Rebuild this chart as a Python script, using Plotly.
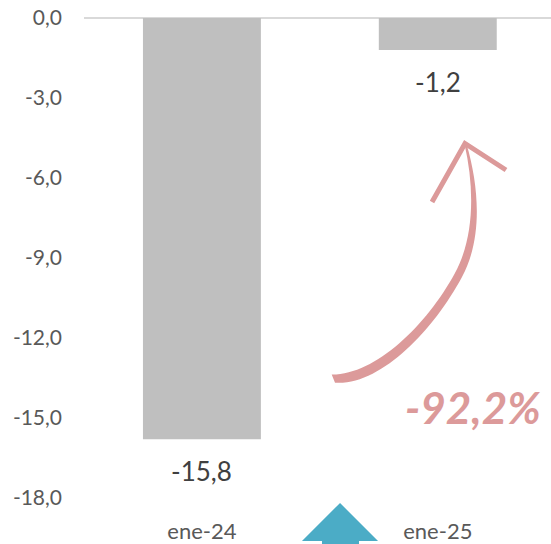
import plotly.graph_objects as go

categories = ["ene-24", "ene-25"]
values = [-15.8, -1.2]
value_labels = ["-15,8", "-1,2"]
tick_values = [0, -3, -6, -9, -12, -15, -18]
tick_labels = ["0,0", "-3,0", "-6,0", "-9,0", "-12,0", "-15,0", "-18,0"]
change_label = "-92,2%"

W, H = 551, 544
L, R, T, B = 84, 0, 18, 46
FONT = "Lato"
PINK = "#DC9A9A"


def px(x):
    return (x - L) / (W - L - R)


def py(y):
    return 1 - (y - T) / (H - T - B)


def P(x, y):
    return f"{px(x):.4f},{py(y):.4f}"


curve = (
    "M" + P(331.7, 374.5)
    + " C" + P(375, 375) + " " + P(426.4, 325.7) + " " + P(455, 273)
    + " C" + P(474, 238) + " " + P(475, 190) + " " + P(464.5, 144)
    + " L" + P(466.5, 144)
    + " C" + P(480, 190) + " " + P(482, 240) + " " + P(462, 277)
    + " C" + P(433, 331) + " " + P(380, 386) + " " + P(335, 382.7)
    + " Z"
)
head = "M" + P(432, 202) + " L" + P(465, 143.5) + " L" + P(506, 170)

teal = "M" + " L".join(
    P(x, y)
    for x, y in [(340, 503), (378, 541), (359, 541), (359, 560), (322, 560), (322, 541), (302, 541)]
) + " Z"

fig = go.Figure(
    go.Bar(
        x=categories,
        y=values,
        width=0.5,
        marker=dict(color="#BFBFBF", line=dict(width=0)),
        cliponaxis=False,
        hoverinfo="skip",
    )
)

label_notes = [
    dict(
        text=t, x=c, y=v, xref="x", yref="y",
        yshift=-32, yanchor="middle", xanchor="center",
        showarrow=False,
        font=dict(family=FONT, size=26, color="#404040"),
    )
    for c, v, t in zip(categories, values, value_labels)
]

fig.update_layout(
    width=W,
    height=H,
    autosize=False,
    margin=dict(l=L, r=R, t=T, b=B, pad=0),
    paper_bgcolor="white",
    plot_bgcolor="white",
    showlegend=False,
    font=dict(family=FONT, color="#595959"),
    xaxis=dict(
        type="category",
        automargin=False,
        range=[-0.5, 1.48],
        showgrid=False,
        showline=False,
        ticks="",
        ticklabelstandoff=18,
        tickfont=dict(family=FONT, size=22, color="#595959"),
        fixedrange=True,
    ),
    yaxis=dict(
        automargin=False,
        range=[-18, 0],
        tickvals=tick_values,
        ticktext=tick_labels,
        showgrid=False,
        zeroline=False,
        showline=False,
        ticks="",
        ticklabelstandoff=21,
        tickfont=dict(family=FONT, size=21, color="#595959"),
        fixedrange=True,
    ),
    shapes=[
        dict(type="line", xref="paper", yref="paper", x0=0, x1=1, y0=1, y1=1,
             line=dict(color="#D9D9D9", width=2), layer="below"),
        dict(type="path", xref="paper", yref="paper", path=curve,
             fillcolor=PINK, line=dict(width=0)),
        dict(type="path", xref="paper", yref="paper", path=head,
             fillcolor="rgba(0,0,0,0)", line=dict(color=PINK, width=5)),
        dict(type="path", xref="paper", yref="paper", path=teal,
             fillcolor="#4BACC6", line=dict(width=0)),
    ],
    annotations=label_notes + [
        dict(
            text=f"<b><i>{change_label}</i></b>",
            xref="paper", yref="paper",
            x=px(473), y=py(407),
            xanchor="center", yanchor="middle",
            showarrow=False,
            font=dict(family=FONT, size=44, color=PINK),
        )
    ],
)

fig.write_html(
    "out.html",
    config=dict(displayModeBar=False),
    post_script="document.body.style.margin='0';",
)
